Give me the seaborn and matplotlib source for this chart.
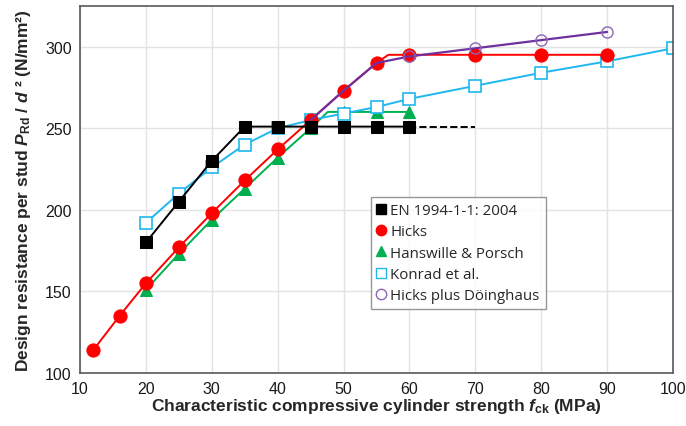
import numpy as np
import pandas as pd
import seaborn as sns
from matplotlib import pyplot as plt
from matplotlib.lines import Line2D

# Data
en_fck = [20, 25, 30, 35, 40, 45, 50, 55, 60]
en_val = [180, 205, 230, 251, 251, 251, 251, 251, 251]
en_ext_fck = [60, 70]
en_ext_val = [251, 251]

hicks_fck = [12, 16, 20, 25, 30, 35, 40, 45, 50, 55, 56.8, 60, 70, 80, 90]
hicks_val = [114, 135, 155, 177, 198, 218, 237, 255, 273, 290, 295, 295, 295, 295, 295]

hp_fck = [20, 25, 30, 35, 40, 45, 47.6, 50, 55, 60]
hp_val = [151, 173, 194, 213, 232, 250, 260, 260, 260, 260]

konrad_fck = [20, 25, 30, 35, 40, 45, 50, 55, 60, 70, 80, 90, 100]
konrad_val = [192, 210, 226, 240, 250, 255, 259, 263, 268, 276, 284, 291, 299]

doing_fck = [45, 50, 55, 60, 70, 80, 90]
doing_val = [255, 273, 290, 294, 299, 304, 309]

labels = ['EN 1994-1-1: 2004', 'Hicks', 'Hanswille & Porsch', 'Konrad et al.',
          'Hicks plus Döinghaus']

sns.set_style('white')
plt.rcParams['font.family'] = ['Liberation Sans', 'DejaVu Sans']
plt.rcParams['mathtext.fontset'] = 'custom'
plt.rcParams['mathtext.rm'] = 'Liberation Sans:bold'
plt.rcParams['mathtext.it'] = 'Liberation Sans:bold:italic'
plt.rcParams['mathtext.bf'] = 'Liberation Sans:bold'

fig = plt.figure(figsize=(6.86, 4.27), dpi=100)
ax = fig.add_axes([0.1166, 0.124, 0.8645, 0.86])

black = '#000000'
red = '#FF0000'
green = '#00B050'
blue = '#1FB8EE'
purple = '#7030A0'

# Konrad et al.
sns.lineplot(x=konrad_fck, y=konrad_val, ax=ax, sort=False, color=blue, lw=1.4,
             marker='s', markersize=9, markerfacecolor='white',
             markeredgecolor=blue, markeredgewidth=1.2, zorder=2)
# EN 1994
sns.lineplot(x=en_fck, y=en_val, ax=ax, sort=False, color=black, lw=1.4,
             marker='s', markersize=8.5, markeredgecolor=black, zorder=3)
sns.lineplot(x=en_ext_fck, y=en_ext_val, ax=ax, sort=False, color=black, lw=1.4,
             dashes=(6, 4), linestyle='--', zorder=2)
# Hanswille & Porsch
sns.lineplot(x=hp_fck, y=hp_val, ax=ax, sort=False, color=green, lw=1.4,
             marker='^', markersize=9, markeredgecolor=green,
             markevery=[0, 1, 2, 3, 4, 5, 7, 8, 9], zorder=1.8)
# Hicks
sns.lineplot(x=hicks_fck, y=hicks_val, ax=ax, sort=False, color=red, lw=1.4,
             marker='o', markersize=9.5, markeredgecolor=red,
             markevery=[i for i in range(len(hicks_fck)) if i != 10], zorder=2.5)
# Hicks plus Doinghaus
sns.lineplot(x=doing_fck, y=doing_val, ax=ax, sort=False, color=purple, lw=1.6,
             zorder=2.6)
sns.lineplot(x=doing_fck[3:], y=doing_val[3:], ax=ax, sort=False, lw=0,
             marker='o', markersize=8, markerfacecolor='none',
             markeredgecolor='#8E65B8', markeredgewidth=1.0, zorder=4)

ax.set_xlim(10, 100)
ax.set_ylim(100, 325)
ax.set_xticks(np.arange(10, 101, 10))
ax.set_yticks(np.arange(100, 301, 50))
ax.grid(True, color='#E3E3E3', lw=1.0)
ax.set_axisbelow(True)
for s in ax.spines.values():
    s.set_color('#595959')
    s.set_linewidth(1.2)
ax.tick_params(length=0, labelsize=11.5, colors='#1a1a1a', pad=6)

ax.set_xlabel(r'Characteristic compressive cylinder strength $f_{\rm ck}$ (MPa)',
              fontsize=12.5, fontweight='bold', labelpad=0)
ax.set_ylabel(r'Design resistance per stud $P_{\rm Rd}$ / $d$ ² (N/mm²)',
              fontsize=12.5, fontweight='bold', labelpad=9)

handles = [
    Line2D([], [], lw=0, marker='s', markersize=7, color=black),
    Line2D([], [], lw=0, marker='o', markersize=7.5, color=red),
    Line2D([], [], lw=0, marker='^', markersize=7.5, color=green),
    Line2D([], [], lw=0, marker='s', markersize=7.5, markerfacecolor='white',
           markeredgecolor=blue, markeredgewidth=1),
    Line2D([], [], lw=0, marker='o', markersize=7.5, markerfacecolor='none',
           markeredgecolor='#8E65B8', markeredgewidth=1),
]
leg = ax.legend(handles, labels, loc='upper left', bbox_to_anchor=(0.478, 0.50),
                frameon=True, fancybox=False, handlelength=0.6, handletextpad=0.3,
                borderpad=0.4, labelspacing=0.42,
                prop={'family': 'Open Sans', 'size': 10.8})
leg.get_frame().set_edgecolor('#7f7f7f')
leg.get_frame().set_linewidth(1.0)

fig.savefig('out.png', dpi=100)
